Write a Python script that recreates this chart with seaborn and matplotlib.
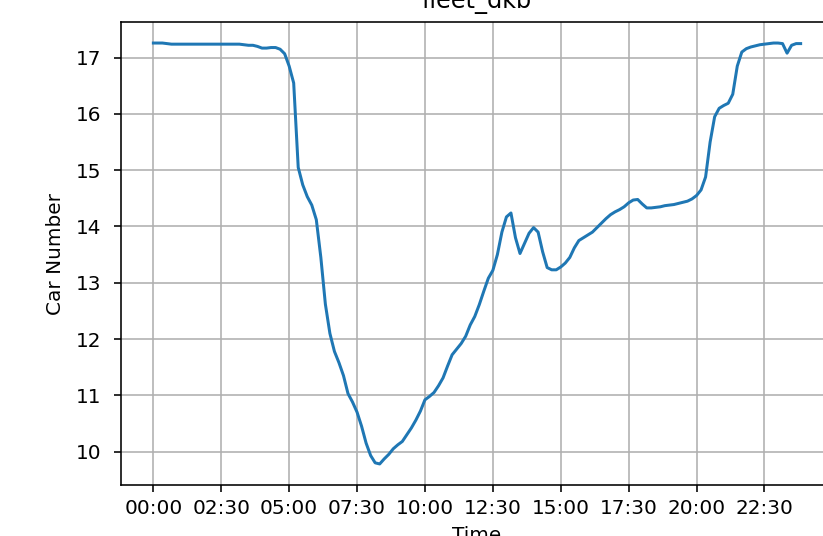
import matplotlib
matplotlib.use("Agg")
import matplotlib.pyplot as plt
import pandas as pd
import seaborn as sns

# Fleet availability over one day, sampled every 10 minutes
day = "2021-01-01"
minutes = list(range(0, 1440, 10))
car_number = [
    17.26, 17.26, 17.26, 17.25, 17.24, 17.24, 17.24, 17.24, 17.24, 17.24,   # 00:00-01:30
    17.24, 17.24, 17.24, 17.24, 17.24, 17.24, 17.24, 17.24, 17.24, 17.24,   # 01:40-03:10
    17.23, 17.22, 17.22, 17.20, 17.17, 17.17, 17.18, 17.18, 17.15, 17.07,   # 03:20-04:50
    16.85, 16.55, 15.05, 14.74, 14.53, 14.38, 14.12, 13.45, 12.62, 12.10,   # 05:00-06:30
    11.78, 11.58, 11.35, 11.03, 10.88, 10.70, 10.45, 10.15, 9.93, 9.80,     # 06:40-08:10
    9.78, 9.87, 9.95, 10.05, 10.12, 10.18, 10.30, 10.42, 10.56, 10.72,      # 08:20-09:50
    10.92, 10.98, 11.05, 11.17, 11.31, 11.52, 11.72, 11.82, 11.92, 12.05,   # 10:00-11:30
    12.25, 12.40, 12.61, 12.85, 13.08, 13.22, 13.50, 13.90, 14.17, 14.24,   # 11:40-13:10
    13.80, 13.52, 13.70, 13.88, 13.98, 13.90, 13.55, 13.27, 13.23, 13.23,   # 13:20-14:50
    13.28, 13.35, 13.45, 13.62, 13.75, 13.80, 13.85, 13.90, 13.98, 14.06,   # 15:00-16:30
    14.14, 14.21, 14.26, 14.30, 14.35, 14.42, 14.47, 14.48, 14.40, 14.33,   # 16:40-18:10
    14.33, 14.34, 14.35, 14.37, 14.38, 14.39, 14.41, 14.43, 14.45, 14.49,   # 18:20-19:50
    14.55, 14.65, 14.88, 15.50, 15.95, 16.10, 16.15, 16.19, 16.35, 16.85,   # 20:00-21:30
    17.10, 17.16, 17.19, 17.21, 17.23, 17.24, 17.25, 17.26, 17.26, 17.25,   # 21:40-23:10
    17.08, 17.22, 17.25, 17.25,                                             # 23:20-23:50
]
tick_labels = ["00:00", "02:30", "05:00", "07:30", "10:00",
               "12:30", "15:00", "17:30", "20:00", "22:30"]
title = "fleet_dkb"
x_label = "Time"
y_label = "Car Number"

start = pd.Timestamp(day)
df = pd.DataFrame({
    x_label: start + pd.to_timedelta(minutes, unit="min"),
    y_label: car_number,
})
tick_pos = start + pd.to_timedelta([lbl + ":00" for lbl in tick_labels])

W, H, DPI = 823, 536, 144
fig = plt.figure(figsize=((W + 0.01) / DPI, (H + 0.01) / DPI), dpi=DPI)
fig.patch.set_facecolor("white")
ax = fig.add_axes([121 / W, 51 / H, 712 / W, 463 / H])

sns.lineplot(data=df, x=x_label, y=y_label, ax=ax,
             color="#1f77b4", linewidth=1.5)

ax.set_xticks(tick_pos)
ax.set_xticklabels(tick_labels)
ax.grid(True, color="#b0b0b0", linewidth=0.8)
ax.tick_params(axis="y", pad=6.5)
ax.set_title(title, fontsize=12, pad=7)
ax.set_xlabel(x_label)
ax.set_ylabel(y_label, labelpad=5)

fig.savefig("out.png", dpi=DPI)
